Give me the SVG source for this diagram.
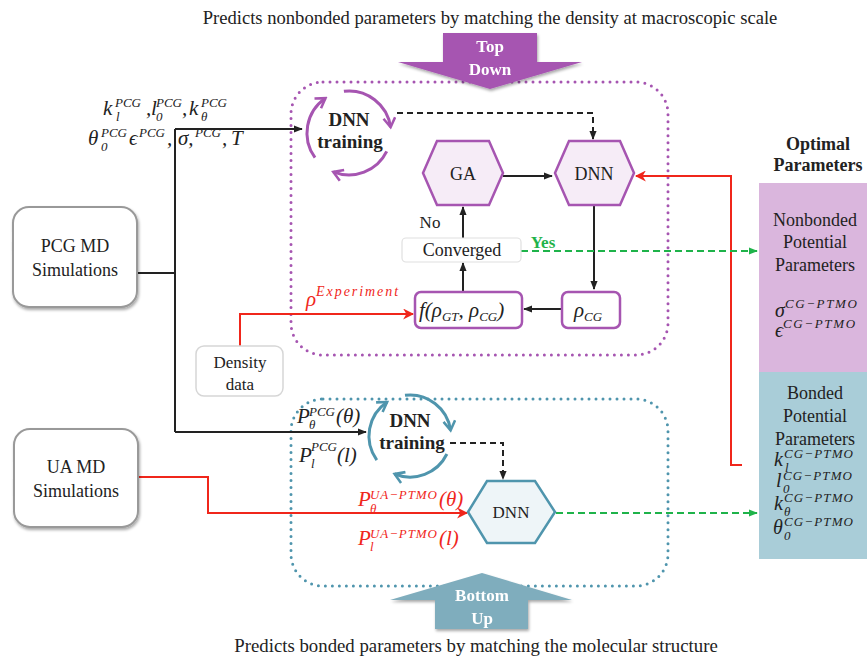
<svg xmlns="http://www.w3.org/2000/svg" width="867" height="657" viewBox="0 0 867 657">
<style>
.t{font-family:"Liberation Serif","Times New Roman",serif;fill:#222}
.b{font-weight:bold}
.m{font-family:"Liberation Serif","Times New Roman",serif;font-style:italic;fill:#222}
.red{fill:#f0261b}
.ln{fill:none;stroke:#222;stroke-width:2}
.dash{fill:none;stroke:#222;stroke-width:2;stroke-dasharray:6 4}
.rl{fill:none;stroke:#f0261b;stroke-width:2}
.gl{fill:none;stroke:#1fb34a;stroke-width:2;stroke-dasharray:7 4}
.pc{fill:none;stroke:#a655b1;stroke-width:3}
.bc{fill:none;stroke:#4f95ad;stroke-width:3}
.phex{fill:#f6ecf7;stroke:#a655b1;stroke-width:2.5}
.pbox{fill:#fff;stroke:#a655b1;stroke-width:2.5}
.mdbox{fill:#fff;stroke:#999;stroke-width:2}
</style>
<defs>
<marker id="ak" viewBox="0 0 10 10" refX="9" refY="5" markerWidth="9" markerHeight="9" markerUnits="userSpaceOnUse" orient="auto"><path d="M0,1 L10,5 L0,9 Z" fill="#222"/></marker>
<marker id="ar" viewBox="0 0 10 10" refX="9" refY="5" markerWidth="11" markerHeight="11" markerUnits="userSpaceOnUse" orient="auto"><path d="M0,0 L10,5 L0,10 L3,5 Z" fill="#f0261b"/></marker>
<marker id="ag" viewBox="0 0 10 10" refX="9" refY="5" markerWidth="9" markerHeight="9" markerUnits="userSpaceOnUse" orient="auto"><path d="M0,1 L10,5 L0,9 Z" fill="#1fb34a"/></marker>
<marker id="cp" viewBox="0 0 12 12" refX="10" refY="6" markerWidth="14" markerHeight="14" markerUnits="userSpaceOnUse" orient="auto"><path d="M2,1 L10,6 L2,11" fill="none" stroke="#a655b1" stroke-width="2.2"/></marker>
<marker id="cb" viewBox="0 0 12 12" refX="10" refY="6" markerWidth="14" markerHeight="14" markerUnits="userSpaceOnUse" orient="auto"><path d="M2,1 L10,6 L2,11" fill="none" stroke="#4f95ad" stroke-width="2.2"/></marker>
<filter id="sh" x="-10%" y="-10%" width="130%" height="130%"><feGaussianBlur in="SourceAlpha" stdDeviation="1.5"/><feOffset dx="1" dy="1.5" result="o"/><feComponentTransfer><feFuncA type="linear" slope="0.35"/></feComponentTransfer><feMerge><feMergeNode/><feMergeNode in="SourceGraphic"/></feMerge></filter>
</defs>
<rect width="867" height="657" fill="#fff"/>

<!-- titles -->
<text class="t" x="490" y="24" font-size="18.6" text-anchor="middle">Predicts nonbonded parameters by matching the density at macroscopic scale</text>
<text class="t" x="476" y="652" font-size="18.8" text-anchor="middle">Predicts bonded parameters by matching the molecular structure</text>

<!-- regions -->
<g id="topdown-region">
<rect x="291" y="82" width="377" height="273" rx="32" fill="none" stroke="#a655b1" stroke-width="3" stroke-dasharray="0 7" stroke-linecap="round"/>
</g>
<g id="bottomup-region">
<rect x="291" y="399" width="377" height="187" rx="32" fill="none" stroke="#4f95ad" stroke-width="3" stroke-dasharray="0 7" stroke-linecap="round"/>
</g>

<g id="topdown-arrow" filter="url(#sh)">
<polygon points="443,33 537,33 537,62 582,62 490,89 398,62 443,62" fill="#a655b1"/>
<text class="t b" x="490" y="52" font-size="17" text-anchor="middle" style="fill:#fff">Top</text>
<text class="t b" x="490" y="75" font-size="17" text-anchor="middle" style="fill:#fff">Down</text>
</g>
<g id="bottomup-arrow" filter="url(#sh)">
<polygon points="482,573 572,600 528,600 528,629 435,629 435,600 390,600" fill="#7fadbd"/>
<text class="t b" x="482" y="601" font-size="17" text-anchor="middle" style="fill:#fff">Bottom</text>
<text class="t b" x="482" y="624" font-size="17" text-anchor="middle" style="fill:#fff">Up</text>
</g>

<!-- connectors -->
<g id="connectors">
<path class="ln" d="M137,273 H175"/>
<path class="ln" d="M175,129 V432"/>
<path class="ln" d="M175,129 H302" marker-end="url(#ak)"/>
<path class="ln" d="M175,432 H366" marker-end="url(#ak)"/>
<path class="ln" d="M503,176 H552" marker-end="url(#ak)"/>
<path class="ln" d="M594,205 V289" marker-end="url(#ak)"/>
<path class="ln" d="M562,309 H524" marker-end="url(#ak)"/>
<path class="ln" d="M463,291 V263" marker-end="url(#ak)"/>
<path class="ln" d="M463,238 V207" marker-end="url(#ak)"/>
<path class="dash" d="M397,113 H593 V139" marker-end="url(#ak)"/>
<path class="dash" d="M450,443 H503 V479" marker-end="url(#ak)"/>
<path class="rl" d="M240,346 V314 H413" marker-end="url(#ar)"/>
<path class="rl" d="M742,465 H731 V176 H636" marker-end="url(#ar)"/>
<path class="rl" d="M138,477 H208 V513 H467" marker-end="url(#ar)"/>
<path class="gl" d="M521,251 H757" marker-end="url(#ag)"/>
<path class="gl" d="M556,513 H757" marker-end="url(#ag)"/>
</g>

<!-- source boxes -->
<g id="pcg-md">
<rect class="mdbox" x="13" y="207" width="124" height="100" rx="16" filter="url(#sh)"/>
<text class="t" x="75" y="252" font-size="18" text-anchor="middle">PCG MD</text>
<text class="t" x="75" y="276" font-size="18" text-anchor="middle">Simulations</text>
</g>
<g id="ua-md">
<rect class="mdbox" x="14" y="429" width="124" height="98" rx="16" filter="url(#sh)"/>
<text class="t" x="76" y="473" font-size="18" text-anchor="middle">UA MD</text>
<text class="t" x="76" y="497" font-size="18" text-anchor="middle">Simulations</text>
</g>
<g id="density">
<rect x="196" y="346" width="87" height="50" rx="8" fill="#fff" stroke="#d6d6d6" stroke-width="1.5"/>
<text class="t" x="240" y="368" font-size="17" text-anchor="middle">Density</text>
<text class="t" x="240" y="390" font-size="17" text-anchor="middle">data</text>
</g>

<!-- PCG parameter labels -->
<g id="pcg-params">
<text class="m" font-size="21"><tspan x="103" y="115">k</tspan><tspan x="146" y="115">,</tspan><tspan x="151" y="115">l</tspan><tspan x="182" y="115">,</tspan><tspan x="189" y="115">k</tspan></text>
<text class="m" font-size="13"><tspan x="115" y="107">PCG</tspan><tspan x="116" y="121">l</tspan><tspan x="156" y="107">PCG</tspan><tspan x="156" y="121">0</tspan><tspan x="201" y="107">PCG</tspan><tspan x="201" y="121">θ</tspan></text>
<text class="m" font-size="21"><tspan x="88" y="145">θ</tspan><tspan x="129" y="145">ϵ</tspan><tspan x="167" y="145">,</tspan><tspan x="178" y="145">σ,</tspan><tspan x="222" y="145">,</tspan><tspan x="231" y="145">T</tspan></text>
<text class="m" font-size="13"><tspan x="101" y="137">PCG</tspan><tspan x="101" y="151">0</tspan><tspan x="139" y="137">PCG</tspan><tspan x="195" y="137">PCG</tspan></text>
</g>

<!-- top-down nodes -->
<g id="dnn-training-top">
<path class="pc" d="M315,157.7 A42,42 0 0,1 325.5,98.2" marker-end="url(#cp)"/>
<path class="pc" d="M343.9,91.3 A42,42 0 0,1 390.6,127.2" marker-end="url(#cp)"/>
<path class="pc" d="M386.7,151.4 A42,42 0 0,1 333.3,171.9" marker-end="url(#cp)"/>
<text class="t b" x="349" y="126" font-size="19" text-anchor="middle">DNN</text>
<text class="t b" x="350" y="148" font-size="19" text-anchor="middle">training</text>
</g>
<g id="ga">
<polygon class="phex" points="423,173 437,141 489,141 503,173 489,205 437,205"/>
<text class="t" x="463" y="180" font-size="18" text-anchor="middle">GA</text>
</g>
<g id="dnn-top">
<polygon class="phex" points="555,173 569,141 620,141 634,173 620,205 569,205"/>
<text class="t" x="594" y="180" font-size="18" text-anchor="middle">DNN</text>
</g>
<g id="converged">
<rect x="402" y="238" width="119" height="24" rx="4" fill="#fff" stroke="#e0e0e0" stroke-width="1.2"/>
<text class="t" x="462" y="256" font-size="18" text-anchor="middle">Converged</text>
<text class="t" x="430" y="228" font-size="17" text-anchor="middle">No</text>
<text class="t b" x="543" y="248" font-size="17" text-anchor="middle" style="fill:#1fb34a">Yes</text>
</g>
<g id="f-box">
<rect class="pbox" x="415" y="292" width="107" height="36" rx="6"/>
<text class="m" x="419" y="317" font-size="21">f(ρ<tspan font-size="13" dy="4">GT</tspan><tspan dy="-4">, ρ</tspan><tspan font-size="13" dy="4">CG</tspan><tspan dy="-4">)</tspan></text>
</g>
<g id="rho-cg">
<rect class="pbox" x="562" y="292" width="58" height="36" rx="6"/>
<text class="m" x="574" y="317" font-size="21">ρ<tspan font-size="13" dy="4">CG</tspan></text>
</g>
<g id="rho-exp">
<text class="m red" x="306" y="306" font-size="21">ρ<tspan font-size="14" dy="-10" textLength="82">Experiment</tspan></text>
</g>

<!-- bottom-up nodes -->
<g id="dnn-training-bottom">
<path class="bc" d="M376.8,460.1 A41,41 0 0,1 387.1,402" marker-end="url(#cb)"/>
<path class="bc" d="M405,395.3 A41,41 0 0,1 450.6,430.3" marker-end="url(#cb)"/>
<path class="bc" d="M446.9,454 A41,41 0 0,1 394.6,474" marker-end="url(#cb)"/>
<text class="t b" x="410" y="427" font-size="19" text-anchor="middle">DNN</text>
<text class="t b" x="412" y="449" font-size="19" text-anchor="middle">training</text>
</g>
<g id="pcg-dist">
<text class="m" font-size="21"><tspan x="297" y="423">P</tspan><tspan x="336" y="423">(θ)</tspan><tspan x="299" y="462">P</tspan><tspan x="337" y="462">(l)</tspan></text>
<text class="m" font-size="13"><tspan x="309" y="416">PCG</tspan><tspan x="309" y="429">θ</tspan><tspan x="311" y="451">PCG</tspan><tspan x="311" y="468">l</tspan></text>
</g>
<g id="ua-dist">
<text class="m red" font-size="21"><tspan x="358" y="506">P</tspan><tspan x="439" y="506">(θ)</tspan><tspan x="358" y="545">P</tspan><tspan x="439" y="545">(l)</tspan></text>
<text class="m red" font-size="13"><tspan x="370" y="499" textLength="67">UA−PTMO</tspan><tspan x="370" y="513">θ</tspan><tspan x="370" y="538" textLength="67">UA−PTMO</tspan><tspan x="370" y="551">l</tspan></text>
</g>
<g id="dnn-bottom">
<polygon points="468,512 487,481 535,481 555,512 535,543 487,543" fill="#eef5f8" stroke="#4f95ad" stroke-width="2.5"/>
<text class="t" x="511" y="518" font-size="17" text-anchor="middle">DNN</text>
</g>

<!-- output panel -->
<g id="optimal-title">
<text class="t b" x="818" y="150" font-size="18" text-anchor="middle">Optimal</text>
<text class="t b" x="818" y="171" font-size="18" text-anchor="middle">Parameters</text>
</g>
<g id="nonbonded">
<rect x="759" y="183" width="108" height="189" fill="#dab6dd"/>
<text class="t" x="815" y="226" font-size="18" text-anchor="middle">Nonbonded</text>
<text class="t" x="815" y="248" font-size="18" text-anchor="middle">Potential</text>
<text class="t" x="815" y="271" font-size="18" text-anchor="middle">Parameters</text>
<text class="m" x="775" y="317" font-size="20">σ<tspan font-size="13" dy="-9" textLength="72">CG−PTMO</tspan></text>
<text class="m" x="775" y="337" font-size="20">ϵ<tspan font-size="13" dy="-9" textLength="72">CG−PTMO</tspan></text>
</g>
<g id="bonded">
<rect x="759" y="372" width="108" height="187" fill="#a9cdd8"/>
<text class="t" x="815" y="399" font-size="18" text-anchor="middle">Bonded</text>
<text class="t" x="815" y="422" font-size="18" text-anchor="middle">Potential</text>
<text class="t" x="815" y="445" font-size="18" text-anchor="middle">Parameters</text>
<text class="m" font-size="20"><tspan x="774" y="466">k</tspan><tspan x="776" y="487">l</tspan><tspan x="774" y="510">k</tspan><tspan x="773" y="534">θ</tspan></text>
<text class="m" font-size="13"><tspan x="784" y="458" textLength="69">CG−PTMO</tspan><tspan x="785" y="472">l</tspan><tspan x="783" y="480" textLength="69">CG−PTMO</tspan><tspan x="783" y="493">0</tspan><tspan x="784" y="502" textLength="69">CG−PTMO</tspan><tspan x="784" y="516">θ</tspan><tspan x="784" y="526" textLength="69">CG−PTMO</tspan><tspan x="784" y="540">0</tspan></text>
</g>
</svg>
